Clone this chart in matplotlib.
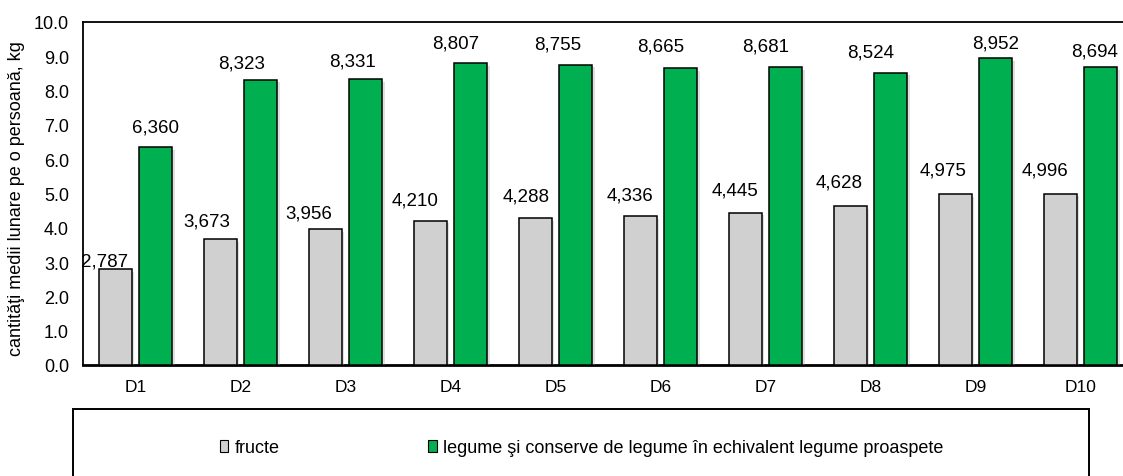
import matplotlib
matplotlib.use("Agg")
import matplotlib.pyplot as plt
import matplotlib.patheffects as pe
from matplotlib.patches import Rectangle, Patch
import numpy as np

plt.rcParams['font.family'] = ['Liberation Sans', 'DejaVu Sans']

deciles = ["D1", "D2", "D3", "D4", "D5", "D6", "D7", "D8", "D9", "D10"]
fructe = [2.787, 3.673, 3.956, 4.210, 4.288, 4.336, 4.445, 4.628, 4.975, 4.996]
legume = [6.360, 8.323, 8.331, 8.807, 8.755, 8.665, 8.681, 8.524, 8.952, 8.694]
series_names = ["fructe", "legume şi conserve de legume în echivalent legume proaspete"]
yticks = [0, 1, 2, 3, 4, 5, 6, 7, 8, 9, 10]

# hand-placed data label nudges (pixels): horizontal shift, height of label centre above bar top
fructe_label_dx = [-11, -13, -16, -15, -9, -10, -10, -11, -12, -15]
fructe_label_dy = [8, 18, 16, 21, 22, 21, 23, 24, 24, 24]
legume_label_dx = [0, -19, -13, -15, -18, -20, -20, -20, 0, -6]
legume_label_dy = [20, 17, 18, 20, 21, 22, 21, 21, 15, 16]

W, H = 1123, 477
fig = plt.figure(figsize=(W / 100, H / 100), dpi=100)
ax = fig.add_axes([83 / W, 1 - 366 / H, 1050 / W, 343 / H])

x = np.arange(len(deciles))
bw = 0.314
off = 0.194
shadow = [pe.SimplePatchShadow(offset=(2, -2), shadow_rgbFace='#9a9a9a', alpha=0.3), pe.Normal()]

def fmt(v):
    return f"{v:.3f}".replace(".", ",")

b1 = ax.bar(x - off, fructe, bw, color='#D0D0D0', edgecolor='black', linewidth=1.1, zorder=3)
b2 = ax.bar(x + off, legume, bw, color='#00B050', edgecolor='black', linewidth=1.1, zorder=3)
for bars, vals, dxs, dys in ((b1, fructe, fructe_label_dx, fructe_label_dy),
                             (b2, legume, legume_label_dx, legume_label_dy)):
    for r, v, dx, dy in zip(bars, vals, dxs, dys):
        r.set_path_effects(shadow)
        ax.annotate(fmt(v), (r.get_x() + r.get_width() / 2, v), xytext=(dx, dy),
                    textcoords='offset pixels', ha='center', va='center', fontsize=13.5,
                    zorder=4, annotation_clip=False)

ax.set_xlim(-0.5, len(deciles) - 0.5)
ax.set_ylim(0, 10)
ax.set_yticks(yticks)
ax.set_yticklabels([f"{t:.1f}" for t in yticks])
ax.set_xticks(x)
ax.set_xticklabels(deciles)
ax.tick_params(axis='y', length=0, pad=10, labelsize=13)
ax.tick_params(axis='x', length=0, pad=10, labelsize=12.5)
for s in ('left', 'top', 'right'):
    ax.spines[s].set_linewidth(1.3)
ax.spines['bottom'].set_linewidth(2)
ax.set_ylabel("cantităţi medii lunare pe o persoană, kg", fontsize=13)
ax.yaxis.set_label_coords(25 / W, 1 - 199 / H, transform=fig.transFigure)

# legend frame below the plot
fig.patches.append(Rectangle((72.7 / W, -0.05), (1088.7 - 72.7) / W, 1.05 - 410 / H,
                             transform=fig.transFigure, fill=False, edgecolor='black',
                             linewidth=1.4, clip_on=False))
handles = [Patch(facecolor='#D0D0D0', edgecolor='black', linewidth=0.8),
           Patch(facecolor='#00B050', edgecolor='black', linewidth=0.8)]
fig.legend(handles, series_names, loc='center left', bbox_to_anchor=(220 / W, 1 - 449 / H),
           ncol=2, frameon=False, fontsize=13, handlelength=0.47, handleheight=0.62,
           handletextpad=0.37, columnspacing=8.2, borderaxespad=0, borderpad=0)

fig.savefig("out.png", dpi=100)
